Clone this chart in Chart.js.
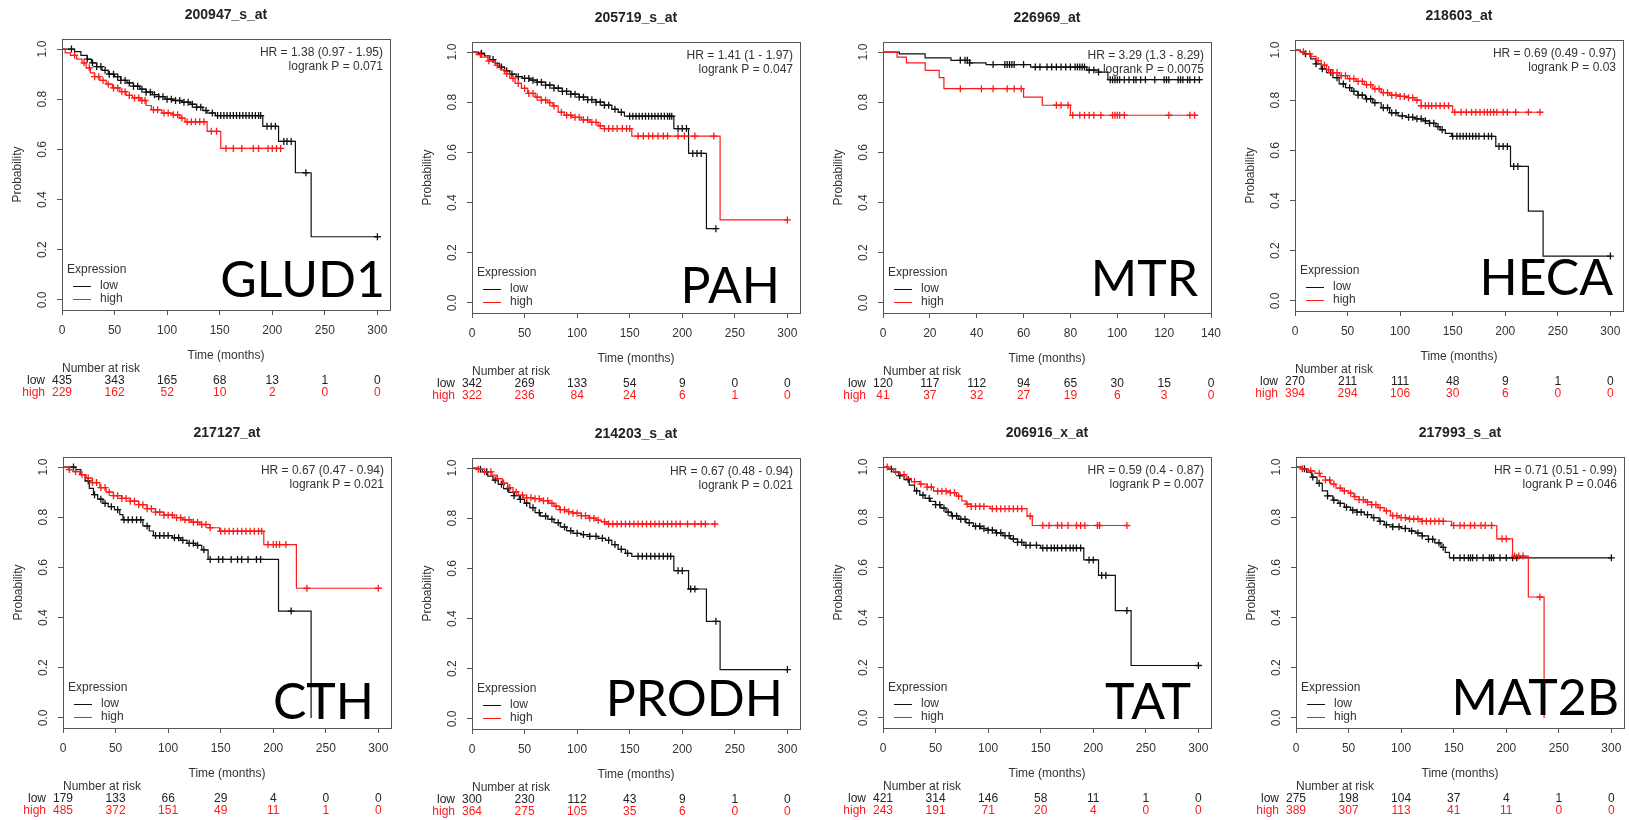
<!DOCTYPE html>
<html>
<head>
<meta charset="utf-8">
<script src="https://cdn.jsdelivr.net/npm/chart.js@4.4.1/dist/chart.umd.min.js"></script>
<style>
  body { margin: 0; background: #fff; width: 1629px; height: 820px; overflow: hidden; position: relative; }
  canvas { position: absolute; }
</style>
</head>
<body>
<script>
// axis ticks
const ticks300 = [0, 50, 100, 150, 200, 250, 300];
const ticks140 = [0, 20, 40, 60, 80, 100, 120, 140];
const yTicks = [0, 0.2, 0.4, 0.6, 0.8, 1.0];

// survival curves: [time, probability after step]
const glud1Low = [[0,1],[12,0.99],[18,0.975],[24,0.96],[28,0.945],[33,0.93],[38,0.915],[44,0.9],[50,0.89],[56,0.875],[62,0.865],[68,0.852],[74,0.84],[80,0.828],[86,0.818],[92,0.81],[98,0.8],[106,0.795],[114,0.788],[122,0.78],[128,0.768],[134,0.755],[138,0.745],[146,0.735],[191,0.692],[206,0.632],[222,0.507],[237,0.252],[300,0.252]];
const glud1High = [[0,1],[3,0.985],[8,0.975],[14,0.96],[19,0.945],[23,0.925],[27,0.905],[31,0.89],[36,0.875],[42,0.86],[48,0.845],[55,0.83],[61,0.815],[67,0.805],[75,0.795],[80,0.775],[85,0.758],[95,0.745],[105,0.738],[112,0.725],[117,0.71],[138,0.672],[151,0.604],[209,0.604]];
const pahLow = [[0,1],[6,0.995],[12,0.985],[17,0.97],[22,0.955],[26,0.94],[31,0.925],[36,0.912],[42,0.902],[48,0.895],[55,0.888],[62,0.88],[70,0.868],[78,0.856],[86,0.843],[94,0.832],[102,0.82],[110,0.81],[118,0.8],[126,0.788],[133,0.772],[139,0.76],[145,0.744],[192,0.695],[206,0.596],[223,0.296],[232,0.296]];
const pahHigh = [[0,1],[4,0.99],[9,0.98],[15,0.965],[22,0.947],[27,0.93],[31,0.914],[36,0.895],[41,0.875],[47,0.855],[53,0.835],[60,0.82],[66,0.808],[72,0.798],[77,0.785],[82,0.76],[88,0.748],[95,0.74],[104,0.73],[112,0.72],[120,0.706],[126,0.695],[152,0.665],[236,0.331],[300,0.331]];
const mtrLow = [[0,1],[7,0.993],[18,0.977],[29,0.967],[37,0.957],[44,0.95],[63,0.94],[87,0.928],[92,0.92],[96,0.89],[136,0.89]];
const mtrHigh = [[0,1],[6,0.98],[10,0.957],[18,0.927],[24,0.898],[26,0.854],[60,0.82],[68,0.788],[80,0.748],[133,0.748]];
const hecaLow = [[0,1],[5,0.993],[10,0.985],[15,0.965],[20,0.945],[25,0.925],[30,0.91],[36,0.89],[42,0.865],[48,0.85],[54,0.835],[60,0.82],[67,0.805],[74,0.79],[82,0.77],[90,0.75],[98,0.738],[106,0.732],[114,0.726],[122,0.718],[128,0.708],[134,0.695],[138,0.682],[143,0.668],[149,0.656],[191,0.616],[205,0.536],[222,0.358],[236,0.179],[300,0.179]];
const hecaHigh = [[0,1],[5,0.993],[10,0.985],[15,0.975],[20,0.958],[25,0.94],[30,0.922],[36,0.91],[42,0.898],[50,0.886],[58,0.875],[66,0.862],[74,0.845],[82,0.83],[90,0.82],[100,0.815],[108,0.81],[114,0.8],[120,0.778],[150,0.752],[233,0.752]];
const cthLow = [[0,1],[12,0.99],[17,0.97],[21,0.945],[25,0.915],[29,0.89],[33,0.872],[38,0.855],[43,0.842],[49,0.83],[54,0.81],[57,0.79],[76,0.765],[82,0.745],[86,0.727],[104,0.718],[112,0.708],[118,0.696],[126,0.688],[132,0.67],[138,0.632],[205,0.426],[236,0]];
const cthHigh = [[0,1],[5,0.99],[10,0.982],[16,0.97],[22,0.956],[28,0.938],[35,0.918],[41,0.9],[48,0.886],[56,0.875],[64,0.864],[72,0.85],[80,0.834],[88,0.82],[96,0.808],[106,0.798],[114,0.79],[122,0.78],[130,0.771],[140,0.758],[149,0.744],[191,0.691],[222,0.517],[300,0.517]];
const prodhLow = [[0,1],[5,0.995],[10,0.985],[15,0.968],[20,0.952],[25,0.935],[30,0.918],[35,0.903],[40,0.89],[45,0.875],[50,0.86],[55,0.842],[60,0.822],[65,0.808],[72,0.796],[78,0.782],[84,0.765],[90,0.75],[96,0.74],[104,0.735],[112,0.728],[120,0.72],[127,0.712],[133,0.695],[139,0.676],[146,0.66],[152,0.648],[192,0.591],[206,0.518],[223,0.389],[236,0.197],[300,0.197]];
const prodhHigh = [[0,1],[6,0.995],[12,0.985],[19,0.972],[24,0.958],[29,0.94],[34,0.922],[39,0.905],[44,0.892],[49,0.882],[58,0.878],[66,0.87],[73,0.86],[78,0.848],[83,0.834],[90,0.826],[96,0.82],[104,0.81],[111,0.8],[118,0.792],[123,0.786],[128,0.777],[231,0.777]];
const tatLow = [[0,1],[5,0.992],[10,0.98],[15,0.966],[20,0.95],[25,0.928],[30,0.905],[35,0.888],[40,0.875],[45,0.863],[50,0.85],[55,0.836],[60,0.82],[65,0.805],[72,0.792],[79,0.778],[86,0.764],[93,0.755],[100,0.748],[107,0.738],[114,0.727],[121,0.714],[128,0.7],[134,0.688],[150,0.677],[191,0.63],[205,0.568],[221,0.428],[236,0.209],[300,0.209]];
const tatHigh = [[0,1],[5,0.992],[10,0.982],[16,0.97],[22,0.955],[27,0.942],[35,0.932],[42,0.92],[48,0.904],[64,0.898],[70,0.884],[75,0.865],[79,0.852],[84,0.843],[102,0.834],[137,0.804],[142,0.767],[232,0.767]];
const mat2bLow = [[0,1],[5,0.993],[10,0.98],[15,0.96],[20,0.935],[25,0.905],[30,0.885],[35,0.868],[40,0.855],[46,0.84],[52,0.828],[58,0.82],[65,0.81],[72,0.798],[79,0.784],[84,0.77],[92,0.762],[100,0.755],[108,0.745],[114,0.737],[120,0.726],[126,0.712],[132,0.698],[138,0.68],[142,0.66],[146,0.638],[300,0.638]];
const mat2bHigh = [[0,1],[6,0.993],[12,0.985],[18,0.975],[23,0.962],[28,0.948],[33,0.932],[38,0.916],[44,0.905],[50,0.896],[55,0.882],[60,0.87],[66,0.86],[72,0.85],[78,0.838],[84,0.825],[90,0.806],[98,0.798],[107,0.793],[120,0.784],[148,0.767],[191,0.714],[206,0.645],[221,0.482],[236,0]];

// censoring times (+ marks)
const glud1LowCens = [9,24,29,33,37,41,45,49,53,56,60,64,68,72,76,80,84,88,92,96,100,104,108,112,116,120,124,128,132,137,143,148,151,154,157,160,163,166,169,172,175,178,181,184,187,189,195,199,203,211,214,218,232,300];
const glud1HighCens = [12,21,26,31,35,39,44,49,53,57,60,64,69,73,76,79,87,91,97,101,106,110,114,119,123,127,131,135,142,147,156,163,171,182,187,196,200,204,208];
const pahLowCens = [9,20,28,33,38,44,50,54,58,62,66,70,74,78,82,86,90,94,98,102,106,110,114,118,122,126,130,136,142,150,153,156,159,162,165,168,171,174,177,180,183,186,188,190,196,200,204,210,214,218,232];
const pahHighCens = [8,16,24,33,39,44,50,54,58,62,66,70,74,78,85,90,94,98,102,106,110,114,118,122,126,130,134,138,143,147,150,158,163,168,172,177,182,186,196,202,212,230,300];
const mtrLowCens = [33,35,36,37,47,52,53,54,55,56,60,65,67,70,72,74,76,78,80,82,83,84,85,86,88,90,92,97,98,99,100,101,103,105,107,108,110,112,116,120,121,122,126,127,128,130,131,133,135];
const mtrHighCens = [33,42,47,53,56,59,74,76,79,81,84,86,88,90,93,98,99,100,101,103,122,131,133];
const hecaLowCens = [10,20,26,34,40,46,52,56,60,64,68,72,76,84,88,92,96,102,108,112,116,120,124,128,132,136,140,150,154,157,160,163,166,169,172,175,180,184,187,194,198,202,208,212,300];
const hecaHighCens = [8,14,22,28,32,36,40,44,48,52,56,60,64,68,72,76,80,84,88,92,96,100,104,108,112,116,120,124,127,130,134,138,142,146,152,158,163,168,172,176,180,183,186,189,192,198,202,210,222,233];
const cthLowCens = [10,24,30,36,40,46,52,58,62,66,70,74,80,88,92,96,100,106,110,114,120,124,128,134,140,148,152,160,166,170,176,184,188,217];
const cthHighCens = [6,12,18,24,28,32,36,40,44,48,52,56,60,64,68,72,76,80,84,88,92,96,100,104,108,112,116,120,124,128,132,136,140,150,154,158,162,166,170,174,178,182,186,189,195,200,203,206,212,232,300];
const prodhLowCens = [8,14,22,28,34,40,46,52,58,64,70,76,82,88,94,100,106,112,118,124,130,136,142,148,158,162,166,170,174,178,182,186,189,196,200,208,212,232,300];
const prodhHighCens = [6,12,18,24,30,36,42,48,52,56,60,64,68,72,76,80,84,88,92,96,100,104,108,112,116,120,126,130,134,138,142,146,150,154,158,162,166,170,174,178,182,186,190,194,198,205,212,218,222,231];
const tatLowCens = [8,16,24,32,38,44,50,54,58,62,66,70,74,78,82,88,92,96,100,104,108,112,116,120,124,128,132,136,140,146,152,156,160,163,166,170,174,178,181,184,188,196,200,208,212,232,300];
const tatHighCens = [4,12,20,30,36,42,46,52,56,60,64,68,72,80,84,88,92,96,104,108,112,116,120,124,128,132,140,152,158,166,170,176,184,188,192,204,206,232];
const mat2bLowCens = [8,16,22,30,36,42,48,54,58,62,68,74,80,86,92,98,104,110,116,120,126,130,136,140,150,156,160,164,166,168,172,178,184,186,188,194,200,206,210,300];
const mat2bHighCens = [6,14,22,28,32,36,42,46,52,56,60,64,68,72,76,80,86,92,96,100,104,108,112,116,120,124,128,132,136,140,150,156,160,166,170,176,180,186,196,200,208,212,216,232];

// number at risk
const glud1Risk = [[435,343,165,68,13,1,0],[229,162,52,10,2,0,0]];
const pahRisk = [[342,269,133,54,9,0,0],[322,236,84,24,6,1,0]];
const mtrRisk = [[120,117,112,94,65,30,15,0],[41,37,32,27,19,6,3,0]];
const hecaRisk = [[270,211,111,48,9,1,0],[394,294,106,30,6,0,0]];
const cthRisk = [[179,133,66,29,4,0,0],[485,372,151,49,11,1,0]];
const prodhRisk = [[300,230,112,43,9,1,0],[364,275,105,35,6,0,0]];
const tatRisk = [[421,314,146,58,11,1,0],[243,191,71,20,4,0,0]];
const mat2bRisk = [[275,198,104,37,4,1,0],[389,307,113,41,11,0,0]];

const probes = ['200947_s_at','205719_s_at','226969_at','218603_at','217127_at','214203_s_at','206916_x_at','217993_s_at'];
const genes = ['GLUD1','PAH','MTR','HECA','CTH','PRODH','TAT','MAT2B'];
const hrText = ['HR = 1.38 (0.97 - 1.95)','HR = 1.41 (1 - 1.97)','HR = 3.29 (1.3 - 8.29)','HR = 0.69 (0.49 - 0.97)',
                'HR = 0.67 (0.47 - 0.94)','HR = 0.67 (0.48 - 0.94)','HR = 0.59 (0.4 - 0.87)','HR = 0.71 (0.51 - 0.99)'];
const pText = ['logrank P = 0.071','logrank P = 0.047','logrank P = 0.0075','logrank P = 0.03',
               'logrank P = 0.021','logrank P = 0.021','logrank P = 0.007','logrank P = 0.046'];

const panels = [
  {ticks: ticks300, xMax: 312, low: glud1Low, high: glud1High, lowCens: glud1LowCens, highCens: glud1HighCens, risk: glud1Risk},
  {ticks: ticks300, xMax: 312, low: pahLow, high: pahHigh, lowCens: pahLowCens, highCens: pahHighCens, risk: pahRisk},
  {ticks: ticks140, xMax: 140, low: mtrLow, high: mtrHigh, lowCens: mtrLowCens, highCens: mtrHighCens, risk: mtrRisk},
  {ticks: ticks300, xMax: 312, low: hecaLow, high: hecaHigh, lowCens: hecaLowCens, highCens: hecaHighCens, risk: hecaRisk},
  {ticks: ticks300, xMax: 312, low: cthLow, high: cthHigh, lowCens: cthLowCens, highCens: cthHighCens, risk: cthRisk},
  {ticks: ticks300, xMax: 312, low: prodhLow, high: prodhHigh, lowCens: prodhLowCens, highCens: prodhHighCens, risk: prodhRisk},
  {ticks: ticks300, xMax: 312, low: tatLow, high: tatHigh, lowCens: tatLowCens, highCens: tatHighCens, risk: tatRisk},
  {ticks: ticks300, xMax: 312, low: mat2bLow, high: mat2bHigh, lowCens: mat2bLowCens, highCens: mat2bHighCens, risk: mat2bRisk}
];

// canvas placement and gene label inset (right, bottom)
const panelPos = [[2,1],[412,4],[823,4],[1235,2],[3,419],[412,420],[823,419],[1236,419]];
const geneInset = [[5,13],[20,10],[13,17],[10,16],[17,9],[17,13],[20,9],[5,13]];

const FONT = '"Liberation Sans", Arial, sans-serif';
const LOW_COL = '#111';
const HIGH_COL = '#ff1a1a';

function survAt(curve, t) {
  let s = curve[0][1];
  for (const [ct, cs] of curve) {
    if (ct <= t) s = cs; else break;
  }
  return s;
}

function drawDecor(chart, i) {
  const ctx = chart.ctx;
  const ca = chart.chartArea;
  const xs = chart.scales.x;
  const ys = chart.scales.y;
  const p = panels[i];
  ctx.save();

  // box
  ctx.strokeStyle = '#555';
  ctx.lineWidth = 1;
  ctx.strokeRect(Math.round(ca.left) + 0.5, Math.round(ca.top) + 0.5, Math.round(ca.width), Math.round(ca.height));

  ctx.fillStyle = '#333';
  ctx.textBaseline = 'middle';

  // y tick labels, rotated like R
  ctx.font = '12px ' + FONT;
  ctx.textAlign = 'center';
  yTicks.forEach(v => {
    ctx.save();
    ctx.translate(ca.left - 19, ys.getPixelForValue(v));
    ctx.rotate(-Math.PI / 2);
    ctx.fillText(v.toFixed(1), 0, 0);
    ctx.restore();
  });
  ctx.save();
  ctx.translate(ca.left - 44, (ca.top + ca.bottom) / 2);
  ctx.rotate(-Math.PI / 2);
  ctx.fillText('Probability', 0, 0);
  ctx.restore();

  // titles
  const cx = (ca.left + ca.right) / 2;
  ctx.fillStyle = '#222';
  ctx.font = 'bold 14px ' + FONT;
  ctx.fillText(probes[i], cx, ca.top - 24);
  ctx.fillStyle = '#333';
  ctx.font = '12px ' + FONT;
  ctx.fillText('Time (months)', cx, ca.bottom + 46);

  // HR / logrank
  ctx.textAlign = 'right';
  ctx.fillText(hrText[i], ca.right - 7, ca.top + 14);
  ctx.fillText(pText[i], ca.right - 7, ca.top + 28);

  // legend
  ctx.textAlign = 'left';
  ctx.fillText('Expression', ca.left + 5, ca.bottom - 40);
  [['low', LOW_COL, 24], ['high', HIGH_COL, 11]].forEach(([lab, col, dy]) => {
    ctx.strokeStyle = col;
    ctx.beginPath();
    ctx.moveTo(ca.left + 11, ca.bottom - dy + 0.5);
    ctx.lineTo(ca.left + 29, ca.bottom - dy + 0.5);
    ctx.stroke();
    ctx.fillStyle = '#333';
    ctx.fillText(lab, ca.left + 38, ca.bottom - dy);
  });

  // gene name
  ctx.fillStyle = '#000';
  ctx.textAlign = 'right';
  ctx.textBaseline = 'alphabetic';
  ctx.font = '50px Lato, "Open Sans", sans-serif';
  ctx.fillText(genes[i], ca.right - geneInset[i][0], ca.bottom - geneInset[i][1]);

  // number at risk table
  ctx.textBaseline = 'middle';
  ctx.font = '12px ' + FONT;
  ctx.fillStyle = '#333';
  ctx.textAlign = 'left';
  ctx.fillText('Number at risk', ca.left, ca.bottom + 59);
  [['low', '#222', 71], ['high', '#ff1a1a', 83]].forEach(([lab, col, dy], r) => {
    ctx.fillStyle = col;
    ctx.textAlign = 'right';
    ctx.fillText(lab, ca.left - 17, ca.bottom + dy);
    ctx.textAlign = 'center';
    p.ticks.forEach((t, k) => {
      ctx.fillText(String(p.risk[r][k]), xs.getPixelForValue(t), ca.bottom + dy);
    });
  });
  ctx.restore();
}

panels.forEach((p, i) => {
  const cv = document.createElement('canvas');
  cv.width = 408;
  cv.height = 404;
  cv.style.left = panelPos[i][0] + 'px';
  cv.style.top = panelPos[i][1] + 'px';
  document.body.appendChild(cv);

  const curve = (pts, col) => ({
    data: pts.map(([x, y]) => ({x, y})),
    borderColor: col, borderWidth: 1.2, stepped: true,
    pointRadius: 0, fill: false
  });
  const marks = (times, pts, col) => ({
    data: times.map(t => ({x: t, y: survAt(pts, t)})),
    showLine: false, borderColor: col, backgroundColor: col,
    pointStyle: 'cross', pointRadius: 3.5, borderWidth: 1.3
  });

  new Chart(cv.getContext('2d'), {
    type: 'line',
    data: {
      datasets: [
        curve(p.high, HIGH_COL),
        marks(p.highCens, p.high, HIGH_COL),
        curve(p.low, LOW_COL),
        marks(p.lowCens, p.low, LOW_COL)
      ]
    },
    options: {
      responsive: false,
      animation: false,
      layout: {padding: {left: 0, top: 38, right: 20, bottom: 0}},
      plugins: {legend: {display: false}, title: {display: false}, tooltip: {enabled: false}},
      scales: {
        x: {
          type: 'linear', min: 0, max: p.xMax,
          afterBuildTicks: s => { s.ticks = p.ticks.map(v => ({value: v})); },
          afterFit: s => { s.height = 95; },
          grid: {drawOnChartArea: false, drawTicks: true, tickLength: 5, color: '#555'},
          border: {display: false},
          ticks: {font: {family: FONT, size: 12}, color: '#333', padding: 8, maxRotation: 0, autoSkip: false}
        },
        y: {
          min: -0.04, max: 1.04,
          afterBuildTicks: s => { s.ticks = yTicks.map(v => ({value: v})); },
          afterFit: s => { s.width = 60; },
          grid: {drawOnChartArea: false, drawTicks: true, tickLength: 5, color: '#555'},
          border: {display: false},
          ticks: {display: false}
        }
      }
    },
    plugins: [{id: 'kmDecor', afterDraw: chart => drawDecor(chart, i)}]
  });
});
</script>
</body>
</html>
